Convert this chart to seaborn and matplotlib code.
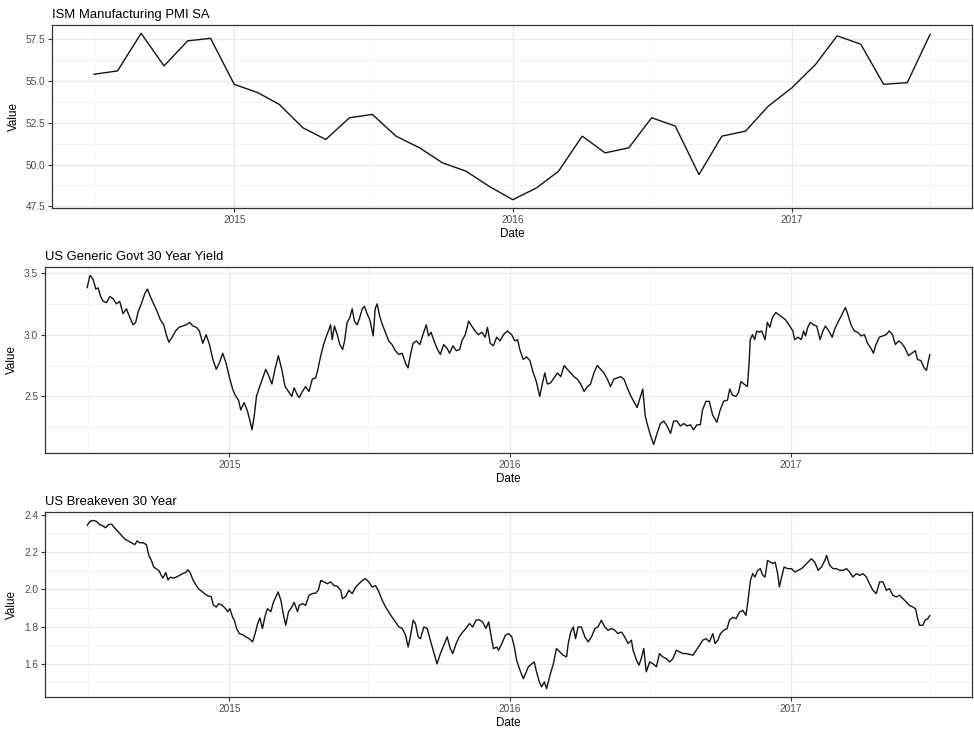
import numpy as np
import pandas as pd
import matplotlib
matplotlib.use("Agg")
import matplotlib.pyplot as plt
import matplotlib.dates as mdates
from matplotlib.ticker import MultipleLocator, AutoMinorLocator, FormatStrFormatter
import seaborn as sns

# ---------------- data ----------------
pmi_title = "ISM Manufacturing PMI SA"
yield_title = "US Generic Govt 30 Year Yield"
be_title = "US Breakeven 30 Year"

pmi_start = "2014-07-01"
pmi_values = [55.4, 55.6, 57.85, 55.9, 57.4, 57.55, 54.8, 54.3, 53.6, 52.2,
              51.5, 52.8, 53.0, 51.7, 51.0, 50.1, 49.6, 48.7, 47.9, 48.6,
              49.6, 51.7, 50.7, 51.0, 52.8, 52.3, 49.4, 51.7, 52.0, 53.5,
              54.6, 56.0, 57.7, 57.2, 54.8, 54.9, 57.8]

# dates as decimal years
yield_years = [
    2014.493, 2014.503, 2014.514, 2014.524, 2014.532, 2014.541, 2014.550, 2014.562, 2014.574, 2014.586,
    2014.597, 2014.609, 2014.621, 2014.633, 2014.645, 2014.657, 2014.666, 2014.674, 2014.686, 2014.698,
    2014.708, 2014.718, 2014.730, 2014.742, 2014.754, 2014.766, 2014.775, 2014.784, 2014.796, 2014.808,
    2014.820, 2014.834, 2014.846, 2014.858, 2014.870, 2014.882, 2014.893, 2014.905, 2014.917, 2014.929,
    2014.941, 2014.953, 2014.964, 2014.976, 2014.988, 2015.000, 2015.012, 2015.021, 2015.033, 2015.041,
    2015.053, 2015.065, 2015.073, 2015.081, 2015.089, 2015.097, 2015.107, 2015.118, 2015.130, 2015.142,
    2015.152, 2015.163, 2015.175, 2015.187, 2015.199, 2015.211, 2015.223, 2015.231, 2015.243,
    2015.249, 2015.261, 2015.272, 2015.284, 2015.296, 2015.308, 2015.316, 2015.326, 2015.335, 2015.345,
    2015.355, 2015.361, 2015.367, 2015.375, 2015.385, 2015.394, 2015.404, 2015.411, 2015.420, 2015.430,
    2015.438, 2015.446, 2015.456, 2015.465, 2015.474, 2015.482, 2015.491, 2015.501, 2015.513, 2015.520,
    2015.527, 2015.536, 2015.546, 2015.556, 2015.568, 2015.580, 2015.592, 2015.604, 2015.616, 2015.628,
    2015.637, 2015.645, 2015.655, 2015.667, 2015.679, 2015.690, 2015.702, 2015.710, 2015.719, 2015.728,
    2015.740, 2015.752, 2015.764, 2015.776, 2015.785, 2015.797, 2015.809, 2015.821, 2015.829, 2015.841,
    2015.853, 2015.864, 2015.876, 2015.888, 2015.900, 2015.912, 2015.920, 2015.930, 2015.941, 2015.953,
    2015.965, 2015.977, 2015.991,
    2016.007, 2016.018, 2016.028, 2016.036, 2016.048, 2016.060, 2016.072, 2016.084, 2016.095, 2016.107,
    2016.117, 2016.125, 2016.134, 2016.146, 2016.158, 2016.170, 2016.182, 2016.194, 2016.205, 2016.217,
    2016.229, 2016.241, 2016.253, 2016.265, 2016.277, 2016.288, 2016.300, 2016.312, 2016.324, 2016.336,
    2016.348, 2016.359, 2016.371, 2016.383, 2016.395, 2016.407, 2016.419, 2016.430, 2016.442, 2016.454,
    2016.466, 2016.474, 2016.483, 2016.492, 2016.501, 2016.513, 2016.525, 2016.537, 2016.549, 2016.561,
    2016.573, 2016.584, 2016.596, 2016.608, 2016.620, 2016.632, 2016.644, 2016.655, 2016.667, 2016.679,
    2016.687, 2016.699, 2016.711, 2016.723, 2016.738, 2016.750, 2016.762,
    2016.776, 2016.784, 2016.794, 2016.806, 2016.815, 2016.824, 2016.835, 2016.847, 2016.853, 2016.857,
    2016.865, 2016.873, 2016.880, 2016.889, 2016.898, 2016.910, 2016.918, 2016.927, 2016.936, 2016.948,
    2016.960, 2016.972, 2016.983, 2016.995, 2017.007, 2017.013, 2017.025, 2017.037, 2017.045, 2017.052,
    2017.060, 2017.069, 2017.080, 2017.092, 2017.104, 2017.114, 2017.123, 2017.135, 2017.147, 2017.155,
    2017.167, 2017.179, 2017.187, 2017.194, 2017.202, 2017.214, 2017.226, 2017.238, 2017.250, 2017.262,
    2017.273, 2017.285, 2017.294, 2017.303, 2017.315, 2017.327, 2017.339, 2017.350, 2017.362, 2017.372,
    2017.384, 2017.395, 2017.407, 2017.419, 2017.431, 2017.443, 2017.451, 2017.463, 2017.475, 2017.483,
    2017.490, 2017.495,
]
yield_values = [
    3.38, 3.48, 3.45, 3.37, 3.38, 3.31, 3.27, 3.26, 3.31, 3.29,
    3.25, 3.27, 3.17, 3.21, 3.14, 3.08, 3.10, 3.18, 3.25, 3.33,
    3.37, 3.31, 3.25, 3.19, 3.12, 3.08, 3.00, 2.94, 2.98, 3.03,
    3.06, 3.07, 3.08, 3.10, 3.07, 3.06, 3.03, 2.93, 3.00, 2.92,
    2.80, 2.72, 2.77, 2.85, 2.77, 2.66, 2.56, 2.51, 2.47, 2.39,
    2.45, 2.38, 2.31, 2.23, 2.34, 2.50, 2.57, 2.64, 2.72, 2.66,
    2.60, 2.72, 2.83, 2.72, 2.58, 2.54, 2.50, 2.57, 2.51,
    2.49, 2.54, 2.58, 2.54, 2.64, 2.65, 2.72, 2.83, 2.91, 2.98,
    3.04, 3.08, 2.96, 3.07, 3.00, 2.92, 2.88, 2.95, 3.10, 3.14,
    3.21, 3.11, 3.08, 3.14, 3.21, 3.23, 3.17, 3.12, 2.99, 3.21,
    3.25, 3.15, 3.08, 3.02, 2.95, 2.92, 2.87, 2.84, 2.85, 2.77,
    2.73, 2.83, 2.93, 2.95, 2.92, 3.00, 3.08, 2.99, 3.02, 2.96,
    2.89, 2.84, 2.92, 2.89, 2.85, 2.91, 2.87, 2.88, 2.95, 3.00,
    3.11, 3.07, 3.03, 3.00, 3.02, 2.98, 3.06, 2.93, 2.91, 2.98,
    2.95, 3.00, 3.03,
    3.00, 2.95, 2.96, 2.88, 2.80, 2.82, 2.79, 2.69, 2.62, 2.50,
    2.61, 2.69, 2.60, 2.61, 2.65, 2.69, 2.66, 2.75, 2.72, 2.69,
    2.66, 2.64, 2.60, 2.54, 2.58, 2.60, 2.69, 2.75, 2.72, 2.69,
    2.64, 2.58, 2.64, 2.65, 2.66, 2.64, 2.57, 2.51, 2.46, 2.41,
    2.50, 2.56, 2.34, 2.26, 2.19, 2.11, 2.20, 2.28, 2.30, 2.26,
    2.20, 2.30, 2.30, 2.26, 2.28, 2.26, 2.27, 2.23, 2.27, 2.27,
    2.39, 2.46, 2.46, 2.35, 2.29, 2.39, 2.46,
    2.47, 2.56, 2.51, 2.50, 2.53, 2.62, 2.60, 2.58, 2.77, 2.96,
    3.00, 2.96, 3.03, 3.02, 3.03, 2.96, 3.10, 3.06, 3.14, 3.18,
    3.16, 3.14, 3.12, 3.08, 3.03, 2.96, 2.98, 2.96, 3.03, 2.99,
    3.06, 3.10, 3.08, 3.07, 2.96, 3.03, 3.07, 3.03, 2.98, 3.04,
    3.10, 3.15, 3.19, 3.22, 3.17, 3.08, 3.03, 3.02, 2.99, 3.00,
    2.93, 2.89, 2.85, 2.92, 2.98, 2.99, 3.00, 3.03, 3.00, 2.92,
    2.95, 2.93, 2.89, 2.83, 2.85, 2.87, 2.80, 2.79, 2.73, 2.71,
    2.79, 2.84,
]

be_years = [
    2014.493, 2014.503, 2014.514, 2014.526, 2014.538, 2014.550, 2014.559, 2014.568, 2014.580, 2014.591,
    2014.603, 2014.615, 2014.627, 2014.639, 2014.651, 2014.663, 2014.671, 2014.680, 2014.692, 2014.704,
    2014.713, 2014.722, 2014.730, 2014.739, 2014.749, 2014.757, 2014.763, 2014.773, 2014.781, 2014.789,
    2014.799, 2014.810, 2014.822, 2014.834, 2014.844, 2014.852, 2014.860, 2014.870, 2014.882, 2014.891,
    2014.901, 2014.911, 2014.923, 2014.935, 2014.943, 2014.953, 2014.962, 2014.974, 2014.986, 2014.994,
    2015.002, 2015.012, 2015.018, 2015.026, 2015.036, 2015.047, 2015.059, 2015.071, 2015.083, 2015.092,
    2015.101, 2015.109, 2015.118, 2015.128, 2015.136, 2015.148, 2015.157, 2015.166, 2015.174, 2015.184,
    2015.192, 2015.201, 2015.211, 2015.223, 2015.231, 2015.243,
    2015.249, 2015.261, 2015.272, 2015.284, 2015.296, 2015.308, 2015.317, 2015.326, 2015.337, 2015.349,
    2015.361, 2015.373, 2015.385, 2015.397, 2015.403, 2015.414, 2015.426, 2015.438, 2015.450, 2015.462,
    2015.474, 2015.485, 2015.497, 2015.509, 2015.521, 2015.533, 2015.545, 2015.557, 2015.568, 2015.580,
    2015.592, 2015.604, 2015.616, 2015.628, 2015.637, 2015.645, 2015.655, 2015.663, 2015.673, 2015.681,
    2015.693, 2015.705, 2015.716, 2015.728, 2015.740, 2015.752, 2015.764, 2015.776, 2015.787, 2015.796,
    2015.808, 2015.819, 2015.831, 2015.843, 2015.855, 2015.867, 2015.879, 2015.890, 2015.902, 2015.914,
    2015.924, 2015.933, 2015.941, 2015.953,
    2015.959, 2015.971, 2015.983, 2015.995, 2016.007, 2016.016, 2016.024, 2016.036, 2016.048, 2016.056,
    2016.066, 2016.078, 2016.087, 2016.095, 2016.105, 2016.113, 2016.123, 2016.131, 2016.143, 2016.155,
    2016.166, 2016.178, 2016.190, 2016.202, 2016.208, 2016.217, 2016.226, 2016.234, 2016.243, 2016.255,
    2016.267, 2016.279, 2016.291, 2016.303, 2016.314, 2016.326, 2016.338, 2016.350, 2016.362, 2016.374,
    2016.385, 2016.397, 2016.409, 2016.421, 2016.433, 2016.439, 2016.451, 2016.460, 2016.468, 2016.477,
    2016.486, 2016.498, 2016.510, 2016.522, 2016.533, 2016.545, 2016.557, 2016.569, 2016.581, 2016.593,
    2016.605, 2016.616, 2016.628, 2016.640, 2016.652, 2016.664, 2016.676, 2016.687, 2016.699, 2016.711,
    2016.723, 2016.731, 2016.741, 2016.750, 2016.762, 2016.774, 2016.782, 2016.794, 2016.806, 2016.818,
    2016.830, 2016.841, 2016.847, 2016.857, 2016.865, 2016.873, 2016.883, 2016.892, 2016.901, 2016.909,
    2016.918, 2016.928, 2016.936, 2016.945, 2016.954, 2016.960, 2016.968, 2016.977, 2016.989, 2017.001,
    2017.013, 2017.025, 2017.037, 2017.049, 2017.060, 2017.072, 2017.084, 2017.096, 2017.108, 2017.120,
    2017.126, 2017.137, 2017.149, 2017.161, 2017.173, 2017.185, 2017.197, 2017.208, 2017.220, 2017.232,
    2017.244, 2017.256, 2017.268, 2017.279, 2017.291, 2017.303, 2017.315, 2017.327, 2017.339, 2017.350,
    2017.362, 2017.374, 2017.386, 2017.398, 2017.410, 2017.421, 2017.433, 2017.443, 2017.449, 2017.457,
    2017.469, 2017.477, 2017.487, 2017.494,
]
be_values = [
    2.343, 2.365, 2.370, 2.365, 2.347, 2.340, 2.330, 2.347, 2.350, 2.330,
    2.310, 2.290, 2.270, 2.260, 2.250, 2.240, 2.260, 2.250, 2.250, 2.240,
    2.180, 2.155, 2.120, 2.110, 2.100, 2.075, 2.060, 2.090, 2.050, 2.065,
    2.060, 2.065, 2.075, 2.085, 2.090, 2.105, 2.090, 2.050, 2.020, 2.000,
    1.990, 1.977, 1.965, 1.960, 1.915, 1.905, 1.923, 1.915, 1.896, 1.880,
    1.896, 1.850, 1.834, 1.790, 1.762, 1.757, 1.745, 1.735, 1.718, 1.762,
    1.816, 1.846, 1.790, 1.860, 1.896, 1.880, 1.930, 1.960, 1.986, 1.940,
    1.870, 1.807, 1.880, 1.905, 1.930, 1.880,
    1.914, 1.923, 1.914, 1.968, 1.977, 1.980, 1.995, 2.048, 2.040, 2.030,
    2.040, 2.020, 2.016, 1.995, 1.950, 1.960, 1.995, 1.977, 2.012, 2.030,
    2.048, 2.057, 2.040, 2.012, 2.020, 1.986, 1.940, 1.905, 1.878, 1.850,
    1.825, 1.798, 1.790, 1.753, 1.690, 1.745, 1.834, 1.816, 1.745, 1.735,
    1.798, 1.790, 1.727, 1.664, 1.600, 1.655, 1.700, 1.745, 1.682, 1.655,
    1.709, 1.745, 1.770, 1.790, 1.816, 1.798, 1.834, 1.837, 1.825, 1.790,
    1.825, 1.745, 1.682, 1.690,
    1.673, 1.709, 1.753, 1.762, 1.745, 1.690, 1.620, 1.566, 1.520, 1.548,
    1.584, 1.600, 1.610, 1.557, 1.503, 1.476, 1.503, 1.467, 1.539, 1.600,
    1.682, 1.664, 1.646, 1.637, 1.709, 1.771, 1.798, 1.735, 1.798, 1.798,
    1.745, 1.718, 1.745, 1.790, 1.798, 1.834, 1.798, 1.780, 1.790, 1.780,
    1.762, 1.771, 1.745, 1.709, 1.727, 1.673, 1.620, 1.593, 1.628, 1.682,
    1.557, 1.610, 1.600, 1.584, 1.655, 1.637, 1.628, 1.610, 1.628, 1.673,
    1.664, 1.655, 1.655, 1.651, 1.646, 1.673, 1.700, 1.727, 1.735, 1.718,
    1.762, 1.709, 1.727, 1.762, 1.780, 1.790, 1.834, 1.850, 1.843, 1.878,
    1.887, 1.860, 1.923, 2.048, 2.084, 2.066, 2.102, 2.111, 2.075, 2.066,
    2.155, 2.146, 2.138, 2.146, 2.084, 2.013, 2.066, 2.120, 2.111, 2.111,
    2.093, 2.102, 2.111, 2.129, 2.146, 2.164, 2.146, 2.102, 2.120, 2.155,
    2.182, 2.129, 2.111, 2.111, 2.102, 2.102, 2.111, 2.093, 2.066, 2.084,
    2.075, 2.084, 2.066, 2.030, 1.995, 1.977, 2.040, 2.040, 1.995, 2.004,
    1.968, 1.959, 1.968, 1.950, 1.932, 1.914, 1.905, 1.896, 1.852, 1.807,
    1.807, 1.834, 1.843, 1.860,
]


def to_dates(decimal_years):
    out = []
    for y in decimal_years:
        yr = int(y)
        out.append(pd.Timestamp(yr, 1, 1) + pd.Timedelta(days=(y - yr) * 365.25))
    return pd.to_datetime(out)


pmi_df = pd.DataFrame({"Date": pd.date_range(pmi_start, periods=len(pmi_values), freq="MS"),
                       "Value": pmi_values})
yield_df = pd.DataFrame({"Date": to_dates(yield_years), "Value": yield_values})
be_df = pd.DataFrame({"Date": to_dates(be_years), "Value": be_values})

# ---------------- style ----------------
sns.set_theme(style="white")
plt.rcParams["font.family"] = ["Liberation Sans", "DejaVu Sans"]

W, H = 974, 729
fig = plt.figure(figsize=(W / 100, H / 100), dpi=100)


def box(l, t, r, b):
    return [l / W, 1 - b / H, (r - l) / W, (b - t) / H]


panels = [
    (pmi_df, pmi_title, box(52, 25, 972, 208), 2.5),
    (yield_df, yield_title, box(45, 267, 972, 453), 0.5),
    (be_df, be_title, box(45, 512, 972, 697), 0.2),
]

for df, title, rect, step in panels:
    ax = fig.add_axes(rect)
    ax.set_facecolor("white")
    sns.lineplot(data=df, x="Date", y="Value", ax=ax, color="#141414", linewidth=1.0)
    ax.margins(x=0.05, y=0.05)
    ax.xaxis.set_major_locator(mdates.YearLocator())
    ax.xaxis.set_major_formatter(mdates.DateFormatter("%Y"))
    ax.xaxis.set_minor_locator(mdates.MonthLocator(bymonth=7))
    ax.yaxis.set_major_locator(MultipleLocator(step))
    ax.yaxis.set_minor_locator(AutoMinorLocator(2))
    ax.yaxis.set_major_formatter(FormatStrFormatter("%.1f"))
    ax.grid(which="major", color="#EBEBEB", linewidth=1.0)
    ax.grid(which="minor", color="#F2F2F2", linewidth=0.6)
    ax.set_axisbelow(True)
    for s in ax.spines.values():
        s.set_color("#333333")
        s.set_linewidth(0.9)
    ax.tick_params(which="major", direction="out", length=3, width=0.8, color="#333333",
                   labelsize=7.3, labelcolor="#4D4D4D", pad=2, bottom=True, left=True)
    ax.tick_params(which="minor", length=0)
    ax.set_xlabel("Date", fontsize=8.4, color="black", labelpad=2)
    ax.set_ylabel("Value", fontsize=8.4, color="black", labelpad=4)
    ax.set_title(title, loc="left", fontsize=9.4, color="black", pad=5)

fig.savefig("out.png", dpi=100)
